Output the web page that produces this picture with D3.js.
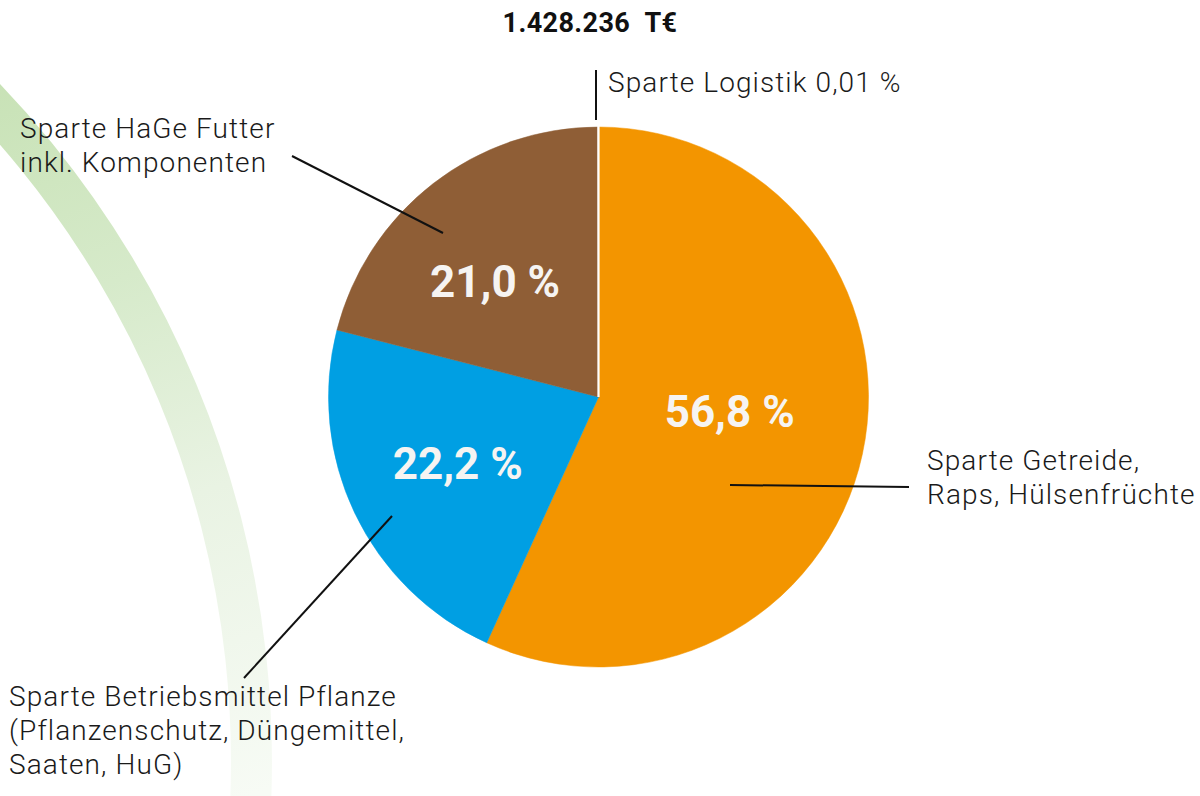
<!DOCTYPE html>
<html>
<head>
<meta charset="utf-8">
<script src="https://cdn.jsdelivr.net/npm/d3@7"></script>
<style>
  body { margin: 0; background: #fff; }
  text { font-family: Roboto, "Liberation Sans", sans-serif; }
</style>
</head>
<body>
<div id="chart"></div>
<script>
// data
const segments = ["Sparte Getreide, Raps, Hülsenfrüchte", "Sparte Betriebsmittel Pflanze", "Sparte HaGe Futter", "Sparte Logistik"];
const shares = [56.8, 22.2, 21.0, 0.01];
const shareLabels = ["56,8 %", "22,2 %", "21,0 %", ""];
const totalLabel = "1.428.236\u00a0\u00a0T€";
const calloutLines = [
  ["Sparte Getreide,", "Raps, Hülsenfrüchte"],
  ["Sparte Betriebsmittel Pflanze", "(Pflanzenschutz, Düngemittel,", "Saaten, HuG)"],
  ["Sparte HaGe Futter", "inkl. Komponenten"],
  ["Sparte Logistik 0,01 %"]
];

//size
const width = 1200;
const height = 796;
const cx = 598.5, cy = 397, radius = 270;
const colors = ["#f39500", "#009fe3", "#8f5e36", "#ffffff"];

// callout layout: leader line (from, to) and text anchor
const callouts = [
  { line: [[730, 485], [909, 487]], x: 927, y: 470 },
  { line: [[392, 516], [244, 678]], x: 9, y: 706 },
  { line: [[443, 233], [292, 156]], x: 20, y: 138 },
  { line: [[596, 120], [596, 70]], x: 608, y: 92 }
];
// inner percent label radius / angle shift per slice
const labelPos = [{ r: 132, da: -0.1 }, { r: 156, da: 0 }, { r: 155, da: -0.07 }, { r: 0, da: 0 }];

const svg = d3.select("#chart")
  .append("svg")
  .attr("width", width)
  .attr("height", height);

// decorative green swoosh (circle centre sits off-canvas)
const swoosh = { x: -709, y: 762 };
const defs = svg.append("defs");
const grad = defs.append("linearGradient")
  .attr("id", "swoosh")
  .attr("gradientUnits", "userSpaceOnUse")
  .attr("x1", 0 - swoosh.x).attr("y1", 80 - swoosh.y)
  .attr("x2", 250 - swoosh.x).attr("y2", 796 - swoosh.y);
grad.append("stop").attr("offset", 0).attr("stop-color", "#c8e2b6");
grad.append("stop").attr("offset", 0.3).attr("stop-color", "#d6eaca");
grad.append("stop").attr("offset", 0.6).attr("stop-color", "#e9f3e3");
grad.append("stop").attr("offset", 1).attr("stop-color", "#f7fbf5");

svg.append("path")
  .attr("transform", `translate(${swoosh.x},${swoosh.y})`)
  .attr("d", d3.arc()
    .innerRadius(940)
    .outerRadius(981)
    .startAngle(0.6)
    .endAngle(1.75)())
  .attr("fill", "url(#swoosh)");

// pie
const data = segments.map((s, i) => ({ name: s, value: shares[i], i }));
const pie = d3.pie().sort(null).value((d) => d.value);
const arcs = pie(data);
const arc = d3.arc().innerRadius(0).outerRadius(radius);

const g = svg.append("g").attr("transform", `translate(${cx},${cy})`);

g.selectAll("path.slice")
  .data(arcs)
  .join("path")
  .attr("class", "slice")
  .attr("d", arc)
  .attr("fill", (d) => colors[d.data.i])
  .attr("stroke", (d) => (d.data.i === 3 ? "#fff" : colors[d.data.i]))
  .attr("stroke-width", (d) => (d.data.i === 3 ? 2.2 : 0.5));

g.selectAll("text.pct")
  .data(arcs.filter((d) => shareLabels[d.data.i]))
  .join("text")
  .attr("class", "pct")
  .attr("transform", (d) => {
    const p = labelPos[d.data.i];
    const a = (d.startAngle + d.endAngle) / 2 + p.da;
    return `translate(${Math.sin(a) * p.r},${-Math.cos(a) * p.r})`;
  })
  .attr("text-anchor", "middle")
  .attr("dominant-baseline", "central")
  .attr("fill", "#f6f4f2")
  .attr("font-size", 44)
  .attr("font-weight", 700)
  .text((d) => shareLabels[d.data.i]);

// leader lines
svg.append("g")
  .selectAll("line")
  .data(callouts)
  .join("line")
  .attr("x1", (d) => d.line[0][0])
  .attr("y1", (d) => d.line[0][1])
  .attr("x2", (d) => d.line[1][0])
  .attr("y2", (d) => d.line[1][1])
  .attr("stroke", "#111")
  .attr("stroke-width", 2);

// callout texts
svg.append("g")
  .selectAll("text")
  .data(callouts)
  .join("text")
  .attr("x", (d) => d.x)
  .attr("y", (d) => d.y)
  .attr("fill", "#1a1a1a")
  .attr("font-size", 28)
  .attr("font-weight", 300)
  .attr("letter-spacing", 1.1)
  .call((t) => {
    t.each(function (d, i) {
      d3.select(this)
        .selectAll("tspan")
        .data(calloutLines[i])
        .join("tspan")
        .attr("x", d.x)
        .attr("dy", (l, j) => (j === 0 ? 0 : 34))
        .text((l) => l);
    });
  });

// total
svg.append("text")
  .attr("x", 590)
  .attr("y", 32)
  .attr("text-anchor", "middle")
  .attr("fill", "#111")
  .attr("font-size", 27)
  .attr("font-weight", 700)
  .attr("letter-spacing", 0.4)
  .text(totalLabel);
</script>
</body>
</html>
